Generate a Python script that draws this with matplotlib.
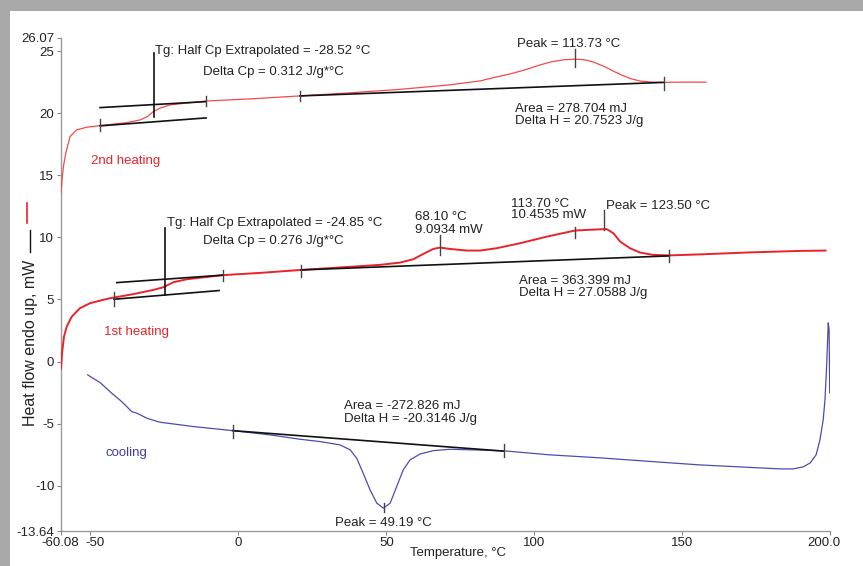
import matplotlib
matplotlib.use("Agg")
import matplotlib.pyplot as plt
import matplotlib.transforms as mtransforms
from matplotlib.patches import Rectangle
from matplotlib.lines import Line2D

plt.rcParams['font.family'] = ['Liberation Sans', 'DejaVu Sans']

# ---------------- data ----------------
heat2_T = [-59.9, -59.56, -59.1, -58.3, -56.85, -54.6, -51.2, -46.7, -37.7, -33.2, -30.7, -28.7,
           -26.5, -23.1, -10.9, 3.95, 20.8, 37.7, 54.6, 71.5, 81.7, 86, 91.8, 97, 102, 106, 110,
           113.7, 117, 120, 123.9, 127, 130, 133, 136, 140, 143.8, 149.2, 158]
heat2_H = [13.6, 14.63, 15.7, 16.78, 18.12, 18.66, 18.87, 19.0, 19.24, 19.46, 19.73, 20.13,
           20.4, 20.67, 20.98, 21.15, 21.39, 21.64, 21.92, 22.28, 22.6, 22.85, 23.16, 23.5, 23.89,
           24.15, 24.3, 24.35, 24.3, 24.12, 23.73, 23.35, 23.02, 22.75, 22.58, 22.5, 22.48, 22.5, 22.5]

heat1_T = [-59.9, -59.56, -58.9, -57.97, -56.28, -53.5, -50.1, -46.7, -43.4, -35.5, -28.7,
           -25.3, -21.95, -17.4, -5.27, 7.3, 21.2, 34.4, 47.9, 54.6, 59.1, 62.5, 65.9, 68.1,
           71.5, 77.2, 81.7, 87.3, 95.2, 104.2, 113.7, 117.7, 123.1, 124.5, 126.7, 129, 132.3,
           135.7, 140.2, 145.6, 155.8, 172.7, 189.6, 198.4]
heat1_H = [-0.53, 0.68, 2.01, 2.82, 3.62, 4.3, 4.7, 4.91, 5.1, 5.43, 5.77,
           5.99, 6.39, 6.63, 6.96, 7.14, 7.38, 7.58, 7.79, 7.97, 8.24, 8.67, 9.07, 9.18,
           9.07, 8.94, 8.94, 9.13, 9.53, 10.06, 10.55, 10.6, 10.66, 10.66, 10.34, 9.66, 9.13,
           8.78, 8.59, 8.55, 8.63, 8.79, 8.91, 8.94]

cool_T = [-50.9, -46.6, -42.8, -39.4, -36.0, -34.3, -30.9, -26.5, -15.2, -1.9, 10.7, 20.8, 27.6,
          34.4, 37.8, 40.0, 42.2, 44.5, 46.8, 49.0, 51.3, 53.5, 55.7, 58.0, 61.4, 65.9, 71.5,
          79.4, 89.9, 105.3, 122.2, 139.1, 156, 172.9, 183, 187.4, 190.8, 193.2, 195.2, 196.5,
          197.6, 198.2, 198.7, 199.1, 199.3, 199.6, 199.8]
cool_H = [-1.07, -1.71, -2.54, -3.22, -4.03, -4.15, -4.56, -4.88, -5.23, -5.56, -5.9, -6.25, -6.44,
          -6.71, -7.11, -7.78, -8.99, -10.33, -11.4, -11.8, -11.4, -10.06, -8.72, -7.92, -7.44,
          -7.17, -7.06, -7.11, -7.19, -7.51, -7.75, -8.04, -8.32, -8.52, -8.64, -8.64, -8.48,
          -8.16, -7.51, -6.31, -4.69, -3.08, -0.67, 1.75, 3.12, 2.55, -2.52]

# analysis construction lines: (T0, H0, T1, H1)
analysis_lines = [
    (-46.7, 20.45, -10.9, 20.93),   # 2nd heating upper tangent
    (-46.7, 18.98, -10.9, 19.62),   # 2nd heating lower tangent
    (-28.52, 24.86, -28.52, 19.7),  # 2nd heating Tg marker
    (20.8, 21.39, 143.8, 22.48),    # 2nd heating peak baseline
    (-41.1, 6.36, -5.27, 6.96),     # 1st heating upper tangent
    (-42.0, 5.02, -6.5, 5.72),      # 1st heating lower tangent
    (-24.85, 10.74, -24.85, 5.37),  # 1st heating Tg marker
    (21.2, 7.38, 145.6, 8.51),      # 1st heating peak baseline
    (-1.9, -5.56, 89.8, -7.21),     # cooling baseline
]
# small vertical ticks: (T, H_top, H_bottom)
analysis_ticks = [
    (-46.7, 19.5, 18.6), (-10.9, 21.4, 20.6), (20.8, 21.8, 21.0), (143.8, 22.9, 21.9),
    (113.73, 25.15, 23.75),
    (-42.0, 5.64, 4.48), (-5.27, 7.38, 6.5), (21.2, 7.79, 6.8), (145.6, 9.0, 8.03),
    (68.1, 10.2, 8.59), (113.7, 10.87, 9.94), (123.5, 12.2, 10.6),
    (-1.9, -5.11, -6.12), (89.8, -6.6, -7.7), (49.19, -11.35, -12.08),
]

# annotations (baseline anchored): (T, H, text, colour)
labels = [
    (-28.2, 24.80, "Tg: Half Cp Extrapolated = -28.52 °C", "#222222"),
    (-12.0, 23.11, "Delta Cp = 0.312 J/g*°C", "#222222"),
    (94.2, 25.31, "Peak = 113.73 °C", "#222222"),
    (93.6, 20.10, "Area = 278.704 mJ", "#222222"),
    (93.6, 19.14, "Delta H = 20.7523 J/g", "#222222"),
    (-49.8, 15.88, "2nd heating", "#e8232b"),
    (-24.1, 10.89, "Tg: Half Cp Extrapolated = -24.85 °C", "#222222"),
    (-12.0, 9.48, "Delta Cp = 0.276 J/g*°C", "#222222"),
    (59.7, 11.43, "68.10 °C", "#222222"),
    (59.7, 10.36, "9.0934 mW", "#222222"),
    (92.2, 12.44, "113.70 °C", "#222222"),
    (92.2, 11.53, "10.4535 mW", "#222222"),
    (124.2, 12.32, "Peak = 123.50 °C", "#222222"),
    (94.8, 6.26, "Area = 363.399 mJ", "#222222"),
    (94.8, 5.31, "Delta H = 27.0588 J/g", "#222222"),
    (-45.4, 2.17, "1st heating", "#e8232b"),
    (35.8, -3.78, "Area = -272.826 mJ", "#222222"),
    (35.8, -4.86, "Delta H = -20.3146 J/g", "#222222"),
    (-45.0, -7.62, "cooling", "#3c3ca8"),
    (32.6, -13.26, "Peak = 49.19 °C", "#222222"),
]

x_ticks = [-60.08, -50, 0, 50, 100, 150, 200]
x_ticklabels = ["-60.08", "-50", "0", "50", "100", "150", "200.0"]
y_ticks = [-13.64, -10, -5, 0, 5, 10, 15, 20, 25, 26.07]
y_ticklabels = ["-13.64", "-10", "-5", "0", "5", "10", "15", "20", "25", "26.07"]

# ---------------- figure ----------------
W, H = 863, 566
fig = plt.figure(figsize=(W / 100, H / 100), dpi=100)
fig.patch.set_facecolor("white")

# gray frame on left and top
fig.patches.append(Rectangle((0, 0), 9.5 / W, 1, transform=fig.transFigure,
                             facecolor="#a9a9a9", edgecolor="none", zorder=0))
fig.patches.append(Rectangle((0, 1 - 11 / H), 1, 11 / H, transform=fig.transFigure,
                             facecolor="#a9a9a9", edgecolor="none", zorder=0))

ax = fig.add_axes([60.5 / W, 1 - 531 / H, (830.3 - 60.5) / W, (531 - 37.8) / H])
ax.set_xlim(-60.08, 200)
ax.set_ylim(-13.64, 26.07)

ax.plot(heat2_T, heat2_H, color="#f24a4a", lw=0.9, zorder=3)
ax.plot(heat1_T, heat1_H, color="#e8232b", lw=1.4, zorder=3)
ax.plot(cool_T, cool_H, color="#4c4cb0", lw=0.9, zorder=3)

for (t0, h0, t1, h1) in analysis_lines:
    ax.plot([t0, t1], [h0, h1], color="#111111", lw=1.2, zorder=4)
for (t, ht, hb) in analysis_ticks:
    ax.plot([t, t], [hb, ht], color="#444444", lw=1.0, zorder=4)

for (t, h, s, c) in labels:
    ax.text(t, h, s, color=c, fontsize=9.5, ha="left", va="baseline", zorder=5)

ax.set_xticks(x_ticks)
ax.set_xticklabels(x_ticklabels)
ax.set_yticks(y_ticks)
ax.set_yticklabels(y_ticklabels)
ax.tick_params(axis="both", direction="out", length=3, width=0.8, color="#888888",
               labelsize=9.5, labelcolor="#222222", pad=1.5)
for side in ("top", "right"):
    ax.spines[side].set_visible(False)
for side in ("left", "bottom"):
    ax.spines[side].set_color("#999999")
    ax.spines[side].set_linewidth(1.0)

# nudge crowded x tick labels like the original
shifts = {"-50": 5, "200.0": -6}
for lab in ax.get_xticklabels():
    dx = shifts.get(lab.get_text())
    if dx:
        lab.set_transform(lab.get_transform() +
                          mtransforms.ScaledTranslation(dx / 100, 0, fig.dpi_scale_trans))

fig.text(458 / W, 1 - 553 / H, "Temperature, °C", fontsize=9.5, color="#222222",
         ha="center", va="center")
fig.text(30 / W, 1 - 343 / H, "Heat flow endo up, mW", fontsize=11.5, color="#222222",
         ha="center", va="center", rotation=90)
fig.lines.append(Line2D([30 / W, 30 / W], [1 - 230 / H, 1 - 252 / H], transform=fig.transFigure,
                        color="#111111", lw=1.0))
fig.lines.append(Line2D([27 / W, 27 / W], [1 - 203 / H, 1 - 223 / H], transform=fig.transFigure,
                        color="#e8232b", lw=1.2))

fig.savefig("out.png", dpi=100)
